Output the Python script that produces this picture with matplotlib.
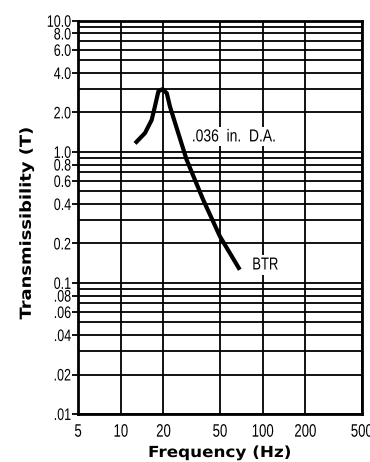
import matplotlib
matplotlib.use("Agg")
import matplotlib.pyplot as plt
from matplotlib.patheffects import AbstractPathEffect
from matplotlib.transforms import Affine2D

# Data
freq = [12.6, 14.8, 16.5, 17.4, 18.4, 19.7, 21.1, 22.2, 29.1, 38.1, 50.0, 69.0]
trans = [1.16, 1.39, 1.75, 2.22, 2.89, 3.01, 2.80, 2.22, 0.87, 0.43, 0.226, 0.126]

x_ticks = [5, 10, 20, 50, 100, 200, 500]
x_tick_labels = ["5", "10", "20", "50", "100", "200", "500"]
y_ticks = [10, 8, 6, 4, 2, 1, 0.8, 0.6, 0.4, 0.2, 0.1, 0.08, 0.06, 0.04, 0.02, 0.01]
y_tick_labels = ["10.0", "8.0", "6.0", "4.0", "2.0", "1.0", "0.8", "0.6", "0.4",
                 "0.2", "0.1", ".08", ".06", ".04", ".02", ".01"]
y_grid = [m * 10.0 ** e for e in (-2, -1, 0) for m in range(1, 10)] + [10.0]


class Stretch(AbstractPathEffect):
    """Scale drawn text glyphs in display space (condensed / expanded look)."""

    def __init__(self, sx=1.0, sy=1.0, anchor="center"):
        super().__init__()
        self.sx = sx
        self.sy = sy
        self.anchor = anchor

    def draw_path(self, renderer, gc, tpath, affine, rgbFace=None):
        ext = tpath.get_extents(affine)
        if self.anchor == "left":
            cx = ext.x0
        elif self.anchor == "right":
            cx = ext.x1
        else:
            cx = 0.5 * (ext.x0 + ext.x1)
        cy = 0.5 * (ext.y0 + ext.y1)
        new = affine + Affine2D().translate(-cx, -cy).scale(self.sx, self.sy).translate(cx, cy)
        renderer.draw_path(gc, tpath, new, rgbFace)


tick_font = ["Liberation Sans", "DejaVu Sans"]
label_font = ["DejaVu Sans"]

fig = plt.figure(figsize=(3.70, 4.62), dpi=100)
ax = fig.add_axes([0.211, 0.104, 0.767, 0.851])
ax.set_xscale("log")
ax.set_yscale("log")
ax.set_xlim(5, 500)
ax.set_ylim(0.01, 10)

for yv in y_grid:
    ax.axhline(yv, color="black", lw=1.3, zorder=1)
for xv in x_ticks:
    ax.axvline(xv, color="black", lw=1.3, zorder=1)

ax.plot(freq, trans, color="black", lw=3.0, solid_capstyle="butt", zorder=3)

ax.set_xticks(x_ticks)
ax.set_xticklabels(x_tick_labels, fontfamily=tick_font, fontsize=13)
ax.set_yticks(y_ticks)
ax.set_yticklabels(y_tick_labels, fontfamily=tick_font, fontsize=12)
ax.minorticks_off()
ax.tick_params(axis="y", length=4, width=1.3, pad=1)
ax.tick_params(axis="x", length=0, pad=7)
for t in ax.get_yticklabels():
    t.set_path_effects([Stretch(0.75, 1.0, "right")])
for t in ax.get_xticklabels():
    t.set_path_effects([Stretch(0.73, 1.0, "center")])

for s in ax.spines.values():
    s.set_linewidth(2.0)

xl = ax.set_xlabel("Frequency (Hz)", fontfamily=label_font, fontweight="bold", fontsize=11)
yl = ax.set_ylabel("Transmissibility (T)", fontfamily=label_font, fontweight="bold", fontsize=11)
ax.xaxis.set_label_coords(0.498, -0.079)
ax.yaxis.set_label_coords(-0.156, 0.484)
xl.set_path_effects([Stretch(1.1, 1.0, "center")])
yl.set_path_effects([Stretch(1.0, 1.17, "center")])

bbox = dict(facecolor="white", edgecolor="none", pad=1.5)
t1 = ax.text(31.5, 1.30, ".036  in.  D.A.", fontfamily=tick_font, fontsize=12.5,
             va="center", ha="left", bbox=bbox, zorder=2)
t2 = ax.text(84, 0.137, "BTR", fontfamily=tick_font, fontsize=12.5,
             va="center", ha="left", bbox=bbox, zorder=2)
for t, sx in ((t1, 0.8), (t2, 0.75)):
    t.set_path_effects([Stretch(sx, 1.0, "left")])
    t.get_bbox_patch().set_path_effects([Stretch(sx, 1.0, "left")])

fig.savefig("out.png", dpi=100)
